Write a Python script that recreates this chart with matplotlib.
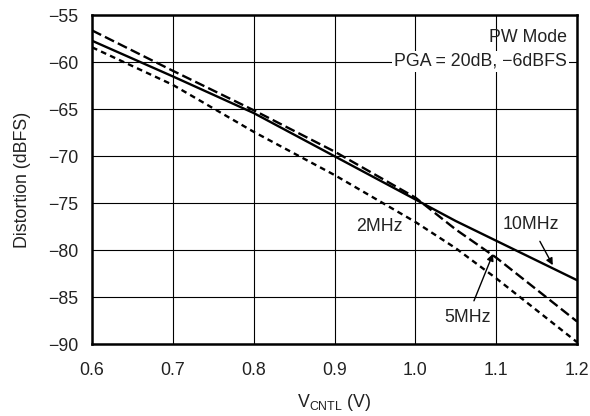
import matplotlib
matplotlib.use("Agg")
import matplotlib.pyplot as plt

plt.rcParams['font.family'] = ['Liberation Sans', 'DejaVu Sans']

# datos
v_cntl = [0.6, 0.7, 0.8, 0.9, 1.0, 1.05, 1.1, 1.2]
d_10mhz = [-57.7, -61.5, -65.4, -70.0, -74.6, -76.9, -79.0, -83.2]
d_5mhz = [-56.6, -60.9, -65.1, -69.5, -74.4, -77.8, -80.8, -87.6]
d_2mhz = [-58.4, -62.4, -67.4, -72.0, -77.0, -79.8, -83.0, -89.8]

x_ticks = [0.6, 0.7, 0.8, 0.9, 1.0, 1.1, 1.2]
x_labels = ["0.6", "0.7", "0.8", "0.9", "1.0", "1.1", "1.2"]
y_ticks = [-90, -85, -80, -75, -70, -65, -60, -55]

fs = 12.8
txt = "#222222"

fig = plt.figure(figsize=(5.9, 4.16), dpi=100)
ax = fig.add_axes([0.156, 0.173, 0.822, 0.790])

ax.plot(v_cntl, d_10mhz, color="black", lw=1.7)
ax.plot(v_cntl, d_5mhz, color="black", lw=1.7, dashes=(4.3, 1.8))
ax.plot(v_cntl, d_2mhz, color="black", lw=1.7, dashes=(2.4, 1.8))

ax.set_xlim(0.6, 1.2)
ax.set_ylim(-90, -55)
ax.set_xticks(x_ticks)
ax.set_xticklabels(x_labels)
ax.set_yticks(y_ticks)
ax.set_yticklabels([str(t).replace("-", "\u2212") for t in y_ticks])
ax.grid(True, color="black", lw=0.8)
ax.tick_params(length=0, labelsize=fs, colors=txt)
ax.tick_params(axis="x", pad=13)
ax.tick_params(axis="y", pad=10)
for s in ax.spines.values():
    s.set_linewidth(1.8)

ax.set_xlabel("V$_{\\mathregular{CNTL}}$ (V)", fontsize=fs, color=txt, labelpad=9)
ax.set_ylabel("Distortion (dBFS)", fontsize=fs, color=txt, labelpad=12)

ax.text(1.188, -57.4, "PW Mode", ha="right", va="center", fontsize=fs, color=txt)
ax.text(1.188, -59.9, "PGA = 20dB, \u22126dBFS", ha="right", va="center", fontsize=fs,
        color=txt, bbox=dict(facecolor="white", edgecolor="none", pad=1.5))
ax.text(0.956, -77.5, "2MHz", ha="center", va="center", fontsize=fs, color=txt,
        bbox=dict(facecolor="white", edgecolor="none", pad=0.5))
ax.annotate("10MHz", xy=(1.170, -81.6), xytext=(1.143, -77.3), ha="center", va="center",
            fontsize=fs, color=txt,
            bbox=dict(facecolor="white", edgecolor="none", pad=0.5),
            arrowprops=dict(arrowstyle="-|>", color="black", lw=1, mutation_scale=10, shrinkA=6, shrinkB=0))
ax.annotate("5MHz", xy=(1.096, -80.4), xytext=(1.064, -87.2), ha="center", va="center",
            fontsize=fs, color=txt,
            bbox=dict(facecolor="white", edgecolor="none", pad=0.5),
            arrowprops=dict(arrowstyle="-|>", color="black", lw=1, mutation_scale=10, shrinkA=6, shrinkB=0))

fig.savefig("out.png", dpi=100)
